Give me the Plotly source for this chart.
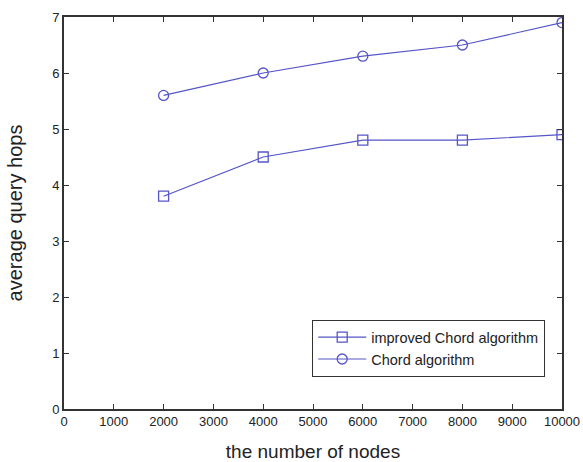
import plotly.graph_objects as go

nodes = [2000, 4000, 6000, 8000, 10000]
improved_chord = [3.8, 4.5, 4.8, 4.8, 4.9]
chord = [5.6, 6.0, 6.3, 6.5, 6.9]
x_ticks = [0, 1000, 2000, 3000, 4000, 5000, 6000, 7000, 8000, 9000, 10000]
y_ticks = [0, 1, 2, 3, 4, 5, 6, 7]

color = "#5555c8"
FONT = "Liberation Sans, Arial, sans-serif"
fig = go.Figure()
fig.add_trace(go.Scatter(x=nodes, y=improved_chord, mode="lines+markers",
                         name="improved Chord algorithm",
                         line=dict(color=color, width=1.2),
                         marker=dict(symbol="square-open", size=10, color=color, line=dict(width=1.3))))
fig.add_trace(go.Scatter(x=nodes, y=chord, mode="lines+markers",
                         name="Chord algorithm",
                         line=dict(color=color, width=1.2),
                         marker=dict(symbol="circle-open", size=10, color=color, line=dict(width=1.3))))

axis_common = dict(showgrid=False, zeroline=False, showline=True, linecolor="#333", linewidth=1.6,
                   mirror="ticks", ticks="inside", ticklen=5, tickcolor="#333", tickwidth=1.2,
                   tickfont=dict(family=FONT, size=13, color="#222"))
fig.update_layout(
    width=583, height=462,
    margin=dict(l=64, r=21, t=17, b=53, autoexpand=False),
    plot_bgcolor="white", paper_bgcolor="white",
    xaxis=dict(range=[0, 10000], tickvals=x_ticks, ticktext=[str(v) for v in x_ticks], **axis_common,
               title=dict(text="the number of nodes", font=dict(family=FONT, size=19, color="#222"), standoff=17)),
    yaxis=dict(range=[0, 7], tickvals=y_ticks, ticktext=[str(v) for v in y_ticks], **axis_common,
               title=dict(text="average query hops", font=dict(family=FONT, size=20, color="#222"), standoff=24)),
    legend=dict(x=0.498, y=0.227, xanchor="left", yanchor="top",
                bordercolor="#333", borderwidth=1.2, bgcolor="white",
                font=dict(family=FONT, size=14.5, color="#222"),
                tracegroupgap=0, itemwidth=48),
    showlegend=True,
)
fig.write_html("out.html", config={"displayModeBar": False},
               post_script="document.body.style.margin='0';document.body.style.padding='0';")
